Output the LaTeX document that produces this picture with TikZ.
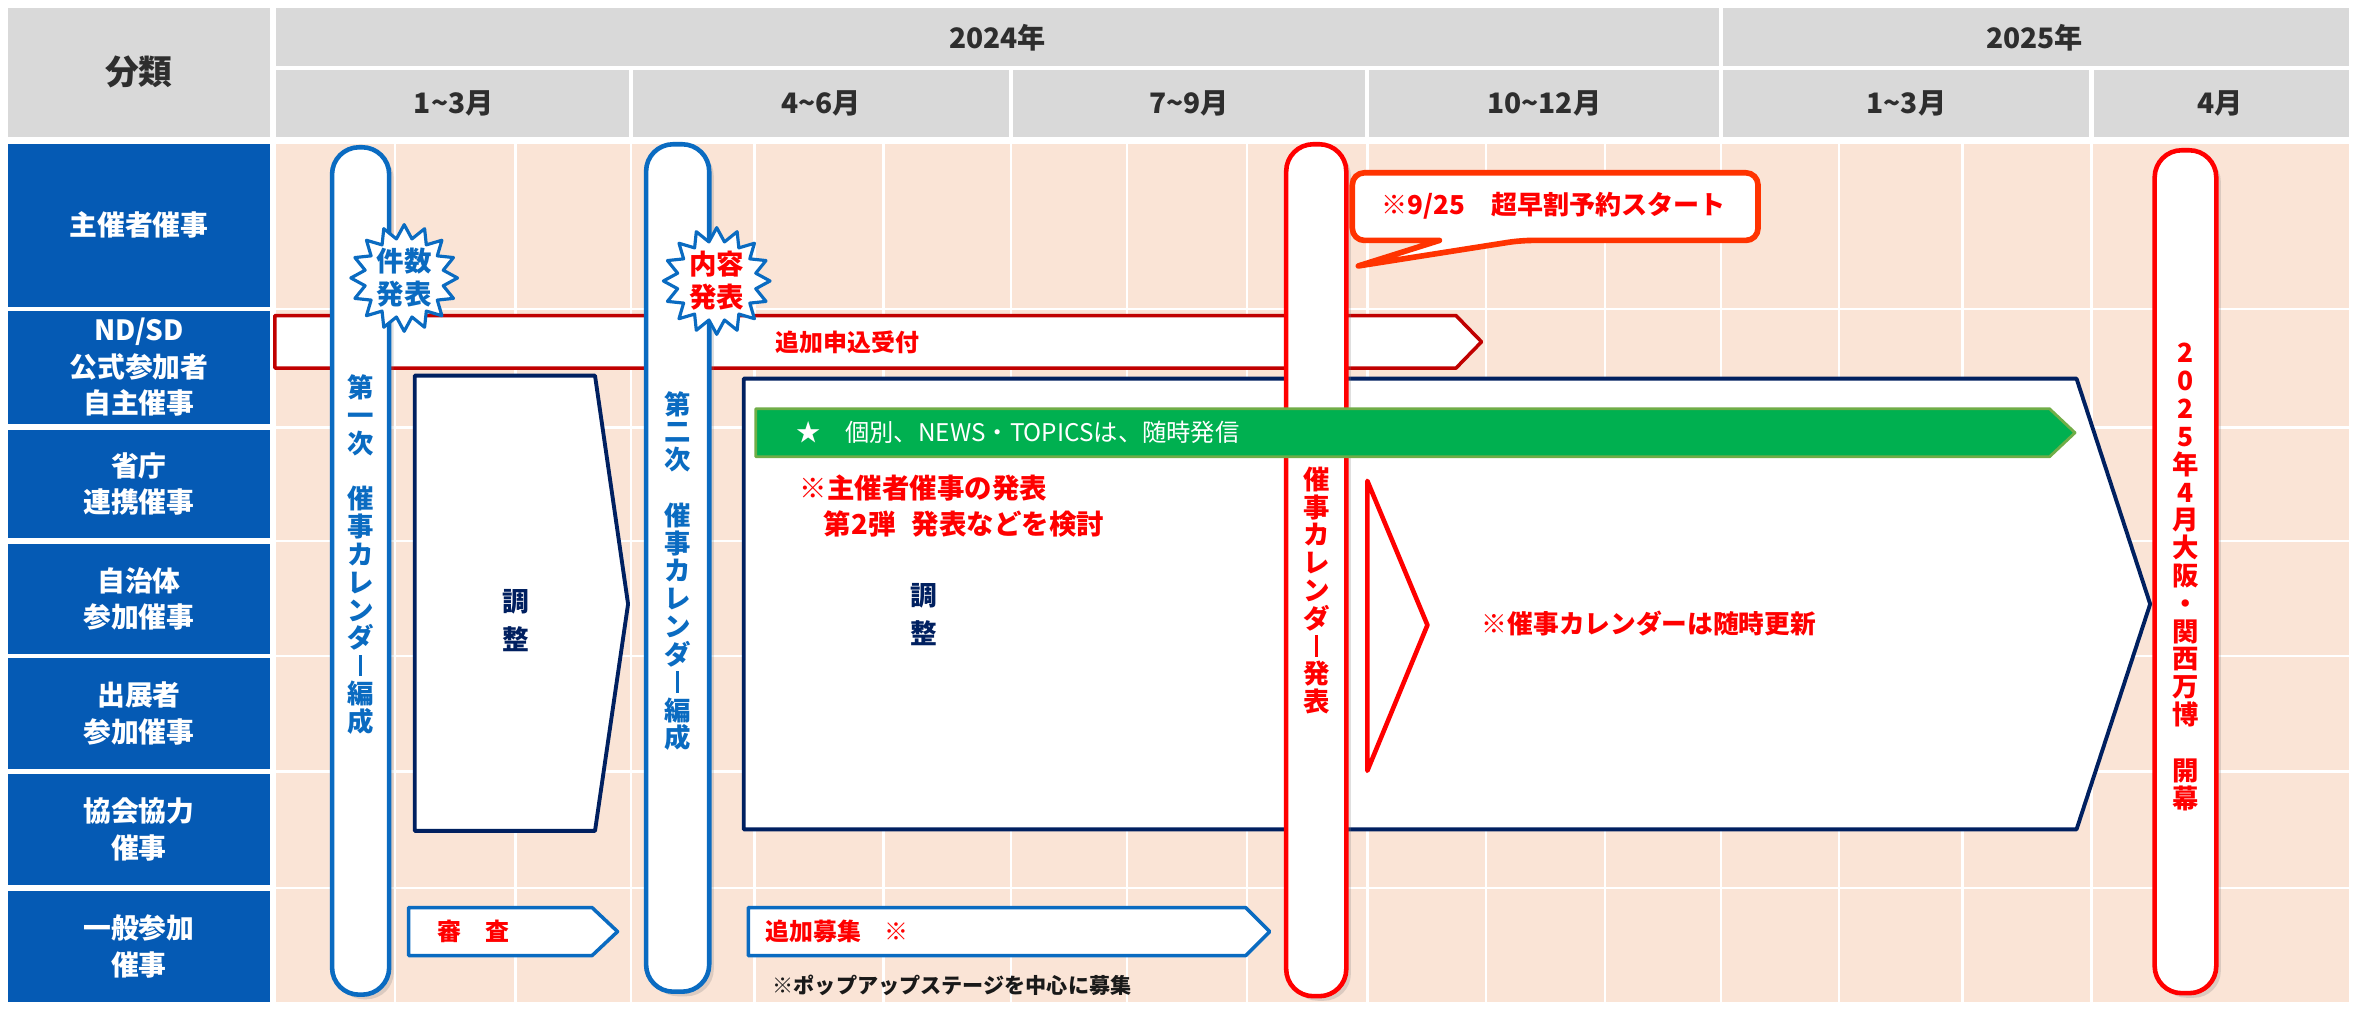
\documentclass[tikz,border=0pt]{standalone}
\usepackage{fontspec}
\setmainfont{Noto Sans CJK JP}
\usetikzlibrary{shadows}

\definecolor{hdrgray}{HTML}{D9D9D9}
\definecolor{hdrtext}{HTML}{2E2E2E}
\definecolor{catblue}{HTML}{055AB4}
\definecolor{peach}{HTML}{FAE4D6}
\definecolor{pillblue}{HTML}{0A6BC1}
\definecolor{navy}{HTML}{002060}
\definecolor{darkred}{HTML}{C00000}
\definecolor{evgreen}{HTML}{00B050}
\definecolor{evgreenline}{HTML}{70AD47}
\definecolor{bubbleline}{HTML}{FF3300}

% long vowel mark for vertical text
\newcommand{\vbar}{\raisebox{-0.02em}{\rule{0.11em}{0.82em}}}

\begin{document}
\begin{tikzpicture}[
    x=0.015cm,
    y=-0.015cm,
    line join=round,
    hdrlabel/.style={text=hdrtext, font=\bfseries\fontsize{8}{9.6}\selectfont},
    catlabel/.style={text=white, align=center, font=\bfseries\fontsize{7.9}{10.4}\selectfont},
    gridline/.style={white, line width=0.7pt},
    pill/.style={fill=white, line width=1.3pt, rounded corners=0.27cm,
        drop shadow={shadow xshift=1.3pt, shadow yshift=-1.3pt, opacity=0.25}},
    pilllabel/.style={align=center, font=\bfseries\fontsize{7.5}{7.9}\selectfont},
    shapebox/.style={fill=white, draw=navy, line width=1.1pt},
    rednote/.style={text=red, anchor=west, font=\bfseries\fontsize{7.8}{9}\selectfont},
    barlabel/.style={text=red, anchor=west, font=\bfseries\fontsize{6.8}{8}\selectfont},
    burst/.style={fill=white, draw=pillblue, line width=0.9pt},
    burstlabel/.style={align=center, font=\bfseries\fontsize{7.8}{9.4}\selectfont}
  ]

  % Page
  \fill[white] (0,0) rectangle (1568,672);
  \useasboundingbox (0,0) rectangle (1568,672);

  % Header
  \fill[hdrgray] (5,5) rectangle (180,91);
  \fill[hdrgray] (184,5) rectangle (1563,91);
  \draw[gridline, line width=1.2pt] (184,45.5) -- (1563,45.5);
  \draw[gridline, line width=1.2pt] (1145.5,5) -- (1145.5,91);
  \foreach \xm in {420,673,910,1392}
    \draw[gridline, line width=1.2pt] (\xm,45.5) -- (\xm,91);
  \node[hdrlabel, font=\bfseries\fontsize{9.6}{11}\selectfont] (cls) at (92.5,48) {分類};
  \node[hdrlabel] (y2024) at (664,25) {2024年};
  \node[hdrlabel] (y2025) at (1354,25) {2025年};
  \foreach \xa/\xb/\mname/\mtext in {184/420/mA/1\textasciitilde3月, 420/673/mB/4\textasciitilde6月,
      673/910/mC/7\textasciitilde9月, 910/1145.5/mD/10\textasciitilde12月,
      1145.5/1392/mE/1\textasciitilde3月, 1392/1563/mF/4月}
    \node[hdrlabel] (\mname) at ({(\xa+\xb)/2},69) {\mtext};

  % Rows
  \fill[peach] (184,96) rectangle (1563,667);
  \foreach \xg in {263,343,420,502,588,673,750,830,910,989,1068,1145.5,1224,1306,1392}
    \draw[gridline] (\xg,96) -- (\xg,667);
  \foreach \yg in {205.5,284.5,360,436.5,513.5,591}
    \draw[gridline] (184,\yg) -- (1563,\yg);
  \foreach \ya/\yb/\rtext [count=\r] in {96/204/{主催者催事}, 207/282/{ND/SD\\公式参加者\\自主催事},
      286/358/{省庁\\連携催事}, 362/435/{自治体\\参加催事}, 438/512/{出展者\\参加催事},
      515/589/{協会協力\\催事}, 593/667/{一般参加\\催事}} {
    \fill[catblue] (5,\ya) rectangle (180,\yb);
    \node[catlabel] (row\r) at (92.5,{(\ya+\yb)/2}) {\rtext};
  }

  % Additional applications
  \draw[darkred, line width=1pt, fill=white]
    (183,210) -- (969,210) -- (986,227.5) -- (969,245) -- (183,245) -- cycle;
  \node[barlabel] (apply) at (508,228) {追加申込受付};

  % Coordination blocks
  \draw[shapebox] (276,250) -- (396,250) -- (418,402) -- (396,553) -- (276,553) -- cycle;
  \node[text=navy, align=center, font=\bfseries\fontsize{7.6}{10.8}\selectfont] (adjA) at (343,413) {調\\整};
  \draw[shapebox] (495,252) -- (1382,252) -- (1431,402) -- (1382,552) -- (495,552) -- cycle;
  \node[text=navy, align=center, font=\bfseries\fontsize{7.6}{10.8}\selectfont] (adjB) at (615,409) {調\\整};
  \node[rednote] (noteA) at (524,325) {※主催者催事の発表};
  \node[rednote] (noteB) at (540,349) {第2弾\hspace{0.6em}発表などを検討};
  \draw[red, line width=1.3pt, fill=white] (910,320) -- (950,416) -- (910,513) -- cycle;
  \node[rednote, font=\bfseries\fontsize{7.3}{9}\selectfont] (update) at (978,415) {※催事カレンダーは随時更新};

  % General participants
  \draw[pillblue, line width=1pt, fill=white]
    (272,604) -- (394,604) -- (411,620) -- (394,636) -- (272,636) -- cycle;
  \node[barlabel] (review) at (283,620) {審　査};
  \draw[pillblue, line width=1pt, fill=white]
    (498,604) -- (829,604) -- (845,620) -- (829,636) -- (498,636) -- cycle;
  \node[barlabel] (extra) at (501,620) {追加募集　※};
  \node[anchor=west, text=black!90, font=\bfseries\fontsize{6}{7}\selectfont] (popup) at (506,656)
    {※ポップアップステージを中心に募集};

  % Milestones
  \draw[pill, draw=pillblue] (221,98) rectangle (259,662);
  \node[pilllabel, text=pillblue] (calA) at (240,369)
    {第\\一\\次\\　\\催\\事\\カ\\レ\\ン\\ダ\\\vbar\\編\\成};
  \draw[pill, draw=pillblue] (430,96) rectangle (472,660);
  \node[pilllabel, text=pillblue] (calB) at (451,380)
    {第\\二\\次\\　\\催\\事\\カ\\レ\\ン\\ダ\\\vbar\\編\\成};
  \draw[pill, draw=red] (856,96) rectangle (896,663);
  \node[pilllabel, text=red] (calC) at (876,393)
    {催\\事\\カ\\レ\\ン\\ダ\\\vbar\\発\\表};
  \draw[pill, draw=red] (1434,100) rectangle (1475,661);
  \node[pilllabel, text=red] (expo) at (1454.5,384)
    {2\\0\\2\\5\\年\\4\\月\\大\\阪\\・\\関\\西\\万\\博\\　\\開\\幕};

  % News bar
  \draw[fill=evgreen, draw=evgreenline, line width=0.8pt]
    (503,272) -- (1364,272) -- (1381,288) -- (1364,304) -- (503,304) -- cycle;
  \node[anchor=west, text=white, font=\fontsize{6.9}{8}\selectfont] (news) at (522,288)
    {★　個別、NEWS・TOPICSは、随時発信};

  % Announcements
  \begin{scope}[shift={(269,185)}]
    \draw[burst] (90:35.5) \foreach \k in {1,...,31} {-- ({90+\k*11.25}:{isodd(\k) ? 26.5 : 35.5})} -- cycle;
  \end{scope}
  \node[burstlabel, text=pillblue] (countpub) at (269,185) {件数\\発表};
  \begin{scope}[shift={(477,187)}]
    \draw[burst] (90:35.5) \foreach \k in {1,...,31} {-- ({90+\k*11.25}:{isodd(\k) ? 26.5 : 35.5})} -- cycle;
  \end{scope}
  \node[burstlabel, text=red] (contentpub) at (477,187) {内容\\発表};

  % Early bird callout
  \draw[fill=white, draw=bubbleline, line width=1.6pt, rounded corners=0.12cm]
    (900,137) -- (900,115) -- (1170,115) -- (1170,160) -- (1012,160) [sharp corners]
    -- (904,177) -- (958,160) [rounded corners=0.12cm] -- (900,160) -- cycle;
  \node[text=red, font=\bfseries\fontsize{7.4}{9}\selectfont] (early) at (1034,137)
    {※9/25　超早割予約スタート};

\end{tikzpicture}
\end{document}
